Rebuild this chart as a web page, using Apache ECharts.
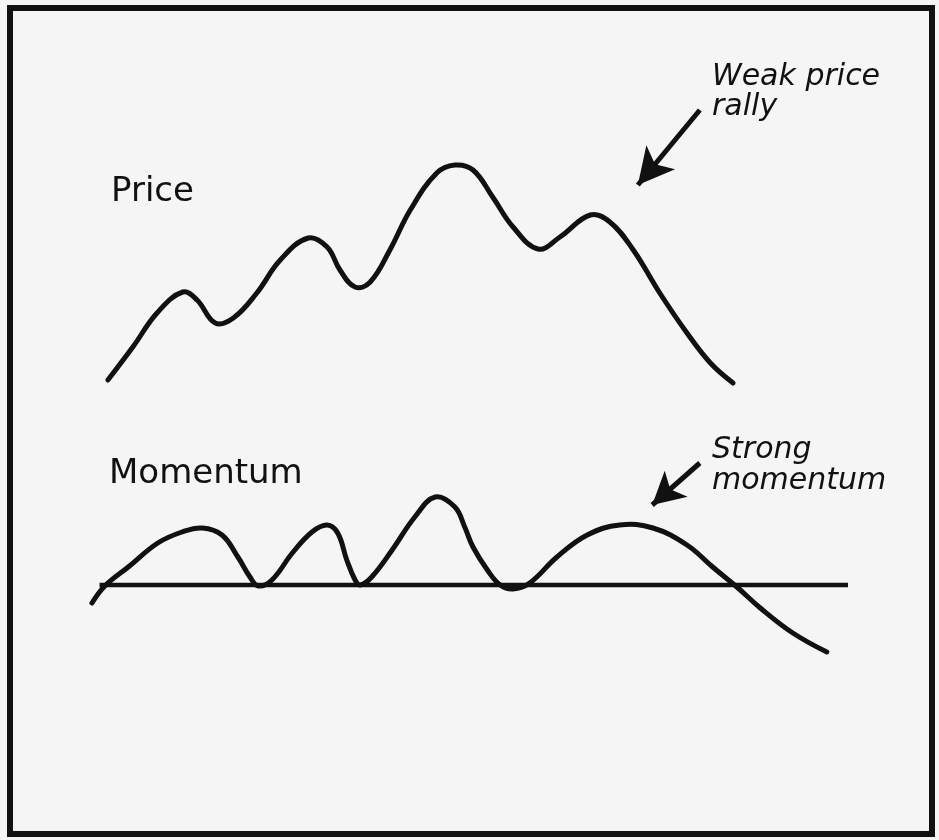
<!DOCTYPE html>
<html>
<head>
<meta charset="utf-8">
<script src="https://cdn.jsdelivr.net/npm/echarts@6/dist/echarts.min.js"></script>
<style>
  body { margin: 0; background: #f5f5f5; }
  #chart { width: 939px; height: 840px; }
</style>
</head>
<body>
<div id="chart"></div>
<script>
// time runs 0..100 across both panels
let priceData = [
  [2.1, 20], [5.4, 53], [8.6, 87], [12.0, 108], [13.9, 100], [16.3, 77],
  [18.7, 82], [21.8, 107], [24.9, 140], [28.6, 162], [31.1, 153], [32.8, 130],
  [34.8, 113], [36.8, 118], [39.4, 150], [42.1, 190], [45.6, 227], [48.0, 235],
  [50.4, 230], [53.0, 203], [55.7, 173], [59.0, 151], [61.9, 163], [65.9, 185],
  [68.5, 178], [71.6, 150], [75.1, 107], [78.7, 67], [81.8, 37], [84.8, 17]
];
let momentumData = [
  [0, -18], [1.7, -1], [4.8, 18], [8.7, 42], [11.9, 53], [14.6, 57],
  [17.2, 50], [19.3, 28], [20.9, 8], [22.0, -1], [23.8, 5], [26.5, 32],
  [29.1, 53], [31.1, 60], [32.5, 52], [33.7, 25], [34.8, 5], [35.5, 0],
  [37.0, 8], [39.7, 35], [42.7, 68], [45.4, 88], [48.0, 78], [49.3, 58],
  [50.4, 38], [52.3, 15], [54.0, 0], [55.7, -4], [57.9, 2], [61.5, 28],
  [65.5, 50], [69.8, 60], [74.2, 57], [78.7, 40], [82.1, 18], [85.3, -2],
  [88.4, -23], [92.7, -48], [97.2, -67]
];
let zeroLine = [[1, 0], [100, 0]];
let priceArrow = [[80.4, 290], [72.2, 215]];
let momentumArrow = [[80.4, 122], [74.1, 80]];

let chart = echarts.init(document.getElementById('chart'));

let font = '"DejaVu Sans", sans-serif';
let ink = '#111';

// one smooth stroke through all points, placed with the axes' own scales
function curve(name, data, axis) {
  return {
    name: name,
    type: 'custom',
    xAxisIndex: axis, yAxisIndex: axis,
    data: data,
    renderItem: function (params, api) {
      if (params.dataIndex !== 0) return;
      return {
        type: 'polyline',
        shape: { points: data.map(function (p) { return api.coord(p); }), smooth: 0.4 },
        style: { stroke: ink, lineWidth: 5, fill: null, lineCap: 'round', lineJoin: 'round' }
      };
    }
  };
}

function arrow(name, data, axis, size) {
  return {
    name: name,
    type: 'line',
    xAxisIndex: axis, yAxisIndex: axis,
    data: data,
    showSymbol: false,
    lineStyle: { color: ink, width: 5 },
    markLine: {
      silent: true,
      symbol: ['none', 'arrow'],
      symbolSize: size,
      label: { show: false },
      lineStyle: { color: ink, width: 0.1, type: 'solid' },
      data: [[{ coord: data[0] }, { coord: data[1] }]]
    }
  };
}

option = {
  backgroundColor: '#f5f5f5',
  animation: false,
  grid: [
    { left: 92, right: 91, top: 40, height: 360 },
    { left: 92, right: 91, top: 420, height: 265 }
  ],
  xAxis: [
    { type: 'value', gridIndex: 0, min: 0, max: 100, show: false },
    { type: 'value', gridIndex: 1, min: 0, max: 100, show: false }
  ],
  yAxis: [
    { type: 'value', gridIndex: 0, min: 0, max: 360, show: false },
    { type: 'value', gridIndex: 1, min: -100, max: 165, show: false }
  ],
  series: [
    curve('Price', priceData, 0),
    arrow('Price arrow', priceArrow, 0, [28, 36]),
    curve('Momentum', momentumData, 1),
    {
      name: 'Zero',
      type: 'line',
      xAxisIndex: 1, yAxisIndex: 1,
      data: zeroLine,
      showSymbol: false,
      lineStyle: { color: ink, width: 4.5 }
    },
    arrow('Momentum arrow', momentumArrow, 1, [26, 32])
  ],
  graphic: [
    {
      type: 'rect',
      shape: { x: 10, y: 8, width: 922, height: 826 },
      style: { fill: 'none', stroke: '#111', lineWidth: 6 }
    },
    {
      type: 'text', left: 111, top: 175,
      style: { text: 'Price', font: '34px ' + font, fill: ink }
    },
    {
      type: 'text', left: 109, top: 457,
      style: { text: 'Momentum', font: '34px ' + font, fill: ink }
    },
    {
      type: 'text', left: 712, top: 62,
      style: { text: 'Weak price\nrally', font: 'italic 30px ' + font, fill: ink, lineHeight: 30 }
    },
    {
      type: 'text', left: 712, top: 435,
      style: { text: 'Strong\nmomentum', font: 'italic 30px ' + font, fill: ink, lineHeight: 31 }
    }
  ]
};

chart.setOption(option);
</script>
</body>
</html>
